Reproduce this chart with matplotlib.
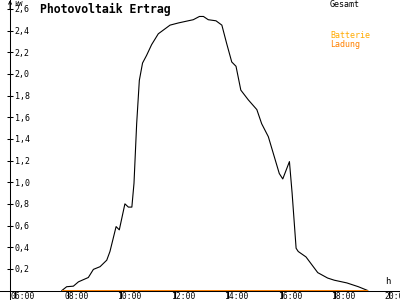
import matplotlib
matplotlib.use("Agg")
import matplotlib.pyplot as plt

# Photovoltaik Ertrag (kW) over the day, hours as decimals
hours = [7.77, 7.95, 8.2, 8.39, 8.76, 8.95, 9.2, 9.45, 9.57, 9.8, 9.92,
         10.13, 10.26, 10.39, 10.47, 10.57, 10.67, 10.79, 10.94, 11.13,
         11.38, 11.82, 12.13, 12.5, 12.69, 12.92, 13.07, 13.25, 13.54,
         13.76, 13.94, 14.13, 14.29, 14.47, 14.75, 15.07, 15.25, 15.5,
         15.91, 16.04, 16.29, 16.39, 16.54, 16.62, 16.91, 17.35, 17.72,
         17.97, 18.44, 18.87, 19.22]
gesamt = [0, 0.035, 0.04, 0.08, 0.12, 0.195, 0.22, 0.28, 0.36, 0.59, 0.56,
          0.80, 0.77, 0.77, 0.99, 1.54, 1.94, 2.10, 2.17, 2.27,
          2.37, 2.45, 2.47, 2.49, 2.50, 2.53, 2.53, 2.50, 2.49,
          2.45, 2.28, 2.11, 2.07, 1.85, 1.76, 1.67, 1.54, 1.42,
          1.08, 1.03, 1.19, 0.90, 0.39, 0.36, 0.31, 0.165, 0.115,
          0.095, 0.07, 0.035, 0]

ladung_hours = [7.77, 19.22]
ladung = [0, 0]

x_ticks = [6, 8, 10, 12, 14, 16, 18, 20]
x_labels = ["06:00", "08:00", "10:00", "12:00", "14:00", "16:00", "18:00", "20:00"]
y_ticks = [0.2, 0.4, 0.6, 0.8, 1.0, 1.2, 1.4, 1.6, 1.8, 2.0, 2.2, 2.4, 2.6]
y_labels = ["0,2", "0,4", "0,6", "0,8", "1,0", "1,2", "1,4", "1,6", "1,8",
            "2,0", "2,2", "2,4", "2,6"]

MONO = "DejaVu Sans Mono"
ORANGE = "#ff8000"
GOLD = "#ffaa00"
X0 = 5.83  # where the y axis crosses

fig = plt.figure(figsize=(4, 3), dpi=100)
ax = fig.add_axes([0, 0, 1, 1])
ax.set_xlim(5.453, 20.43)
ax.set_ylim(-0.0877, 2.682)

for s in ("top", "right"):
    ax.spines[s].set_visible(False)
ax.spines["left"].set_position(("data", X0))
ax.spines["bottom"].set_position(("data", 0))
ax.spines["left"].set_linewidth(0.75)
ax.spines["bottom"].set_linewidth(0.75)

ax.set_xticks(x_ticks)
ax.set_yticks(y_ticks)
ax.tick_params(axis="x", direction="out", length=5, width=0.75, labelbottom=False)
ax.tick_params(axis="y", direction="inout", length=4.5, width=0.75, labelleft=False)

ax.plot(hours, gesamt, color="black", lw=0.8, clip_on=False)
ax.plot(ladung_hours, ladung, color=ORANGE, lw=1.4, solid_capstyle="butt")

for h, lab in zip(x_ticks, x_labels):
    ax.annotate(lab, xy=(h, 0), xytext=(-4, -1.5), textcoords="offset pixels",
                ha="left", va="top", family=MONO, fontsize=5.8)
for v, lab in zip(y_ticks, y_labels):
    ax.annotate(lab, xy=(X0, v), xytext=(4.5, 0), textcoords="offset pixels",
                ha="left", va="center_baseline", family=MONO, fontsize=6)

ax.annotate("", xy=(X0, 2.68), xytext=(X0, 2.6),
            arrowprops=dict(arrowstyle="->", lw=0.75, color="black",
                            shrinkA=0, shrinkB=0, mutation_scale=5))
fig.text(14 / 400, 1 - 0.5 / 300, "kW", family=MONO, fontsize=5, va="top")
fig.text(385 / 400, 1 - 281 / 300, "h", family=MONO, fontsize=6.5, va="center")

fig.text(40 / 400, 1 - 3 / 300, "Photovoltaik Ertrag", family=MONO,
         fontweight="bold", fontsize=8.3, va="top")
fig.text(330 / 400, 1 - 4.5 / 300, "Gesamt", family=MONO, fontsize=6, va="center")
fig.text(330 / 400, 1 - 36 / 300, "Batterie", family=MONO, fontsize=6,
         va="center", color=GOLD)
fig.text(330 / 400, 1 - 44.5 / 300, "Ladung", family=MONO, fontsize=6,
         va="center", color=ORANGE)

fig.savefig("out.png", dpi=100)
